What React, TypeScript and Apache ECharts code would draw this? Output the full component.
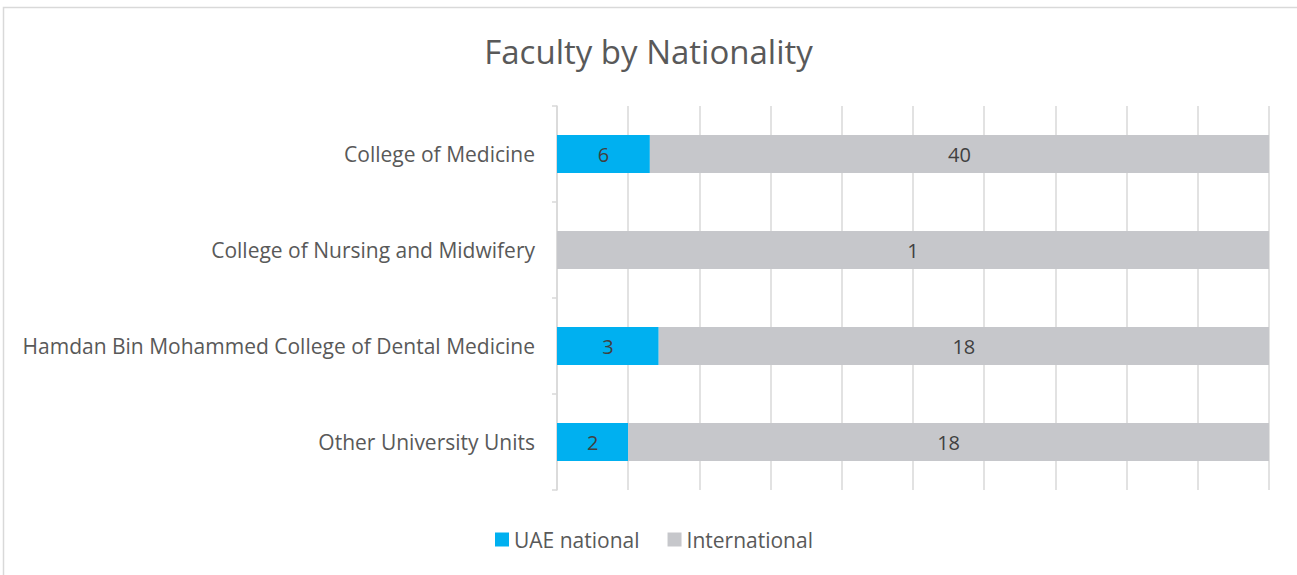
import React, { useEffect, useRef } from "react";
import * as echarts from "echarts";

const categories = [
  "College of Medicine",
  "College of Nursing and Midwifery",
  "Hamdan Bin Mohammed College of Dental Medicine",
  "Other University Units",
];
const uaeNational = [6, 0, 3, 2];
const international = [40, 1, 18, 18];
const seriesNames = ["UAE national", "International"];
const titleText = "Faculty by Nationality";

const FONT = "'Open Sans', 'Noto Sans', sans-serif";

export default function App() {
  const ref = useRef<HTMLDivElement>(null);
  useEffect(() => {
    if (!ref.current) return;
    const chart = echarts.init(ref.current, undefined, { renderer: "svg" });
    const totals = categories.map((_, i) => uaeNational[i] + international[i]);
    const pct = (arr: number[]) => arr.map((v, i) => (v / totals[i]) * 100);
    const raw = [uaeNational, international];
    const labelCfg = (si: number) => ({
      show: true,
      position: "inside",
      color: "#404040",
      fontSize: 20,
      fontFamily: FONT,
      formatter: (p: any) => {
        const v = raw[si][p.dataIndex];
        return v === 0 ? "" : String(v);
      },
    });
    chart.setOption({
      animation: false,
      backgroundColor: "#ffffff",
      title: {
        text: titleText,
        left: "center",
        top: 30,
        textStyle: { color: "#595959", fontSize: 33, fontWeight: "normal", fontFamily: FONT },
      },
      graphic: [
        {
          type: "rect",
          shape: { x: 3.5, y: 7.5, width: 1310, height: 600 },
          style: { fill: "none", stroke: "#d9d9d9", lineWidth: 1.5 },
          silent: true,
        },
      ],
      legend: {
        bottom: 20,
        left: 490,
        itemWidth: 14,
        itemHeight: 14,
        itemGap: 28,
        icon: "rect",
        textStyle: { color: "#595959", fontSize: 21, fontFamily: FONT },
        data: seriesNames,
      },
      grid: { left: 557, right: 28, top: 106, bottom: 85, containLabel: false },
      xAxis: {
        type: "value",
        min: 0,
        max: 100,
        interval: 10,
        axisLabel: { show: false },
        axisLine: { show: false },
        axisTick: { show: false },
        splitLine: { show: true, lineStyle: { color: "#d9d9d9", width: 1.5 } },
      },
      yAxis: {
        type: "category",
        inverse: true,
        data: categories,
        axisLine: { show: true, lineStyle: { color: "#d9d9d9", width: 1.5 } },
        axisTick: { show: true, length: 5, lineStyle: { color: "#d9d9d9", width: 1.5 } },
        axisLabel: { color: "#595959", fontSize: 21, fontFamily: FONT, margin: 22 },
      },
      series: [
        {
          name: seriesNames[0],
          type: "bar",
          stack: "total",
          barWidth: 38,
          itemStyle: { color: "#00b0f0" },
          label: labelCfg(0),
          data: pct(uaeNational),
        },
        {
          name: seriesNames[1],
          type: "bar",
          stack: "total",
          barWidth: 38,
          itemStyle: { color: "#c6c7cb" },
          label: labelCfg(1),
          data: pct(international),
        },
      ],
    });
    return () => chart.dispose();
  }, []);
  return (
    <div
      ref={ref}
      style={{ position: "fixed", left: 0, top: 0, width: 1297, height: 575 }}
    />
  );
}
